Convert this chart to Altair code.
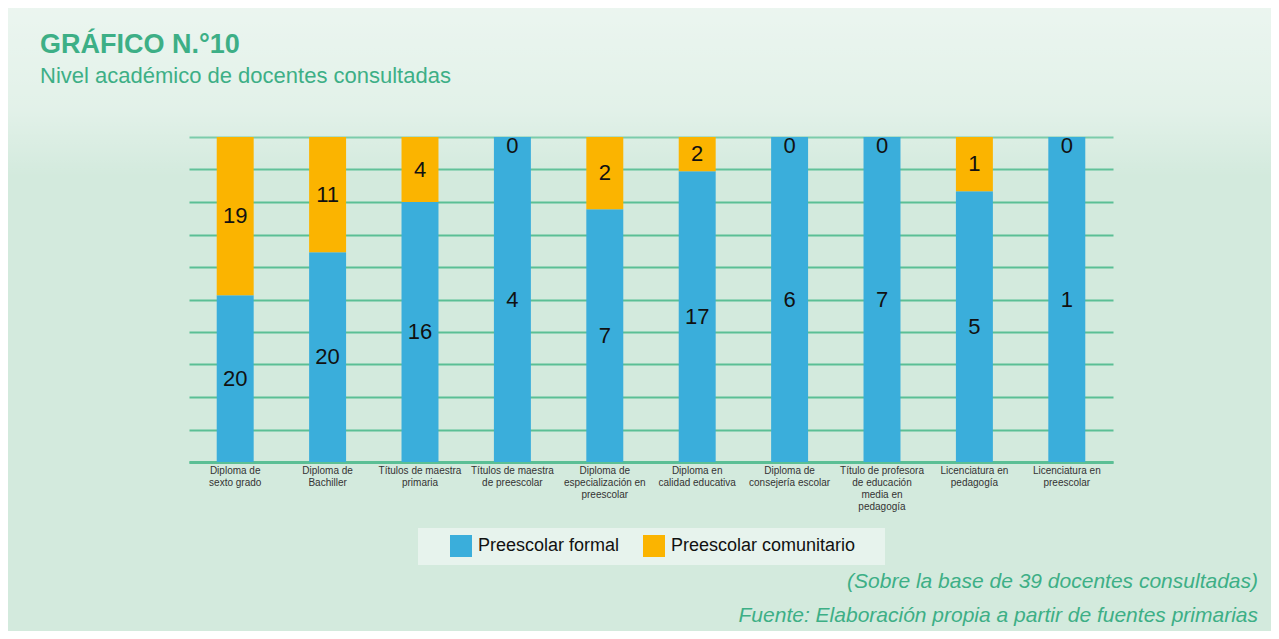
import altair as alt
import pandas as pd

# ---- data ----
categories = [
    "Diploma de|sexto grado",
    "Diploma de|Bachiller",
    "Títulos de maestra|primaria",
    "Títulos de maestra|de preescolar",
    "Diploma de|especialización en|preescolar",
    "Diploma en|calidad educativa",
    "Diploma de|consejería escolar",
    "Título de profesora|de educación|media en|pedagogía",
    "Licenciatura en|pedagogía",
    "Licenciatura en|preescolar",
]
formal = [20, 20, 16, 4, 7, 17, 6, 7, 5, 1]
comunitario = [19, 11, 4, 0, 2, 2, 0, 0, 1, 0]
series = ["Preescolar formal", "Preescolar comunitario"]
colors = ["#3aaedb", "#fbb400"]
grid_values = [0, 0.1, 0.2, 0.3, 0.4, 0.5, 0.6, 0.7, 0.8, 0.9, 1.0]

title_text = "GRÁFICO N.°10"
subtitle_text = "Nivel académico de docentes consultadas"
note1 = "(Sobre la base de 39 docentes consultadas)"
note2 = "Fuente: Elaboración propia a partir de fuentes primarias"

rows = []
for i, c in enumerate(categories):
    rows.append({"cat": c, "serie": series[0], "value": formal[i], "ord": 0})
    rows.append({"cat": c, "serie": series[1], "value": comunitario[i], "ord": 1})
df = pd.DataFrame(rows)

SANS = "Liberation Sans, Arial, sans-serif"
GREEN = "#3daf86"
GRID = "#5bbf95"

W, H = 924, 325
PAD = {"left": 181, "top": 129, "right": 158, "bottom": 169}

one = pd.DataFrame({"k": [0]})

# background light streak (decoration)
streak = alt.Chart(one).mark_rect(
    fill=alt.LinearGradient(
        gradient="linear",
        stops=[
            alt.GradientStop(color="rgba(255,255,255,0.55)", offset=0),
            alt.GradientStop(color="rgba(255,255,255,0.35)", offset=0.6),
            alt.GradientStop(color="rgba(255,255,255,0)", offset=1),
        ],
        x1=0, x2=0, y1=0, y2=1,
    )
).encode(x=alt.value(-181), x2=alt.value(W + 158), y=alt.value(-129), y2=alt.value(40))

x_scale = alt.Scale(paddingInner=0.6, paddingOuter=0.3)
x_axis = alt.Axis(
    labelExpr="split(datum.label, '|')",
    labelAngle=0,
    labelFont=SANS,
    labelFontSize=10,
    labelColor="#333333",
    labelLineHeight=12,
    labelPadding=3,
    labelBaseline="top",
    labelOverlap=False,
    labelLimit=0,
    ticks=False,
    domainColor=GRID,
    domainWidth=3,
    grid=False,
)
y_scale = alt.Scale(domain=[0, 1], nice=False)
y_axis = alt.Axis(
    values=grid_values,
    tickCount=len(grid_values),
    labels=False,
    ticks=False,
    domain=False,
    grid=True,
    gridColor=GRID,
    gridWidth=2,
    gridOpacity=1,
)


def xenc():
    return alt.X("cat:N", sort=categories, title=None, scale=x_scale, axis=x_axis)


bars = alt.Chart(df).mark_bar().encode(
    x=xenc(),
    y=alt.Y("value:Q", stack="normalize", title=None, scale=y_scale, axis=y_axis),
    color=alt.Color(
        "serie:N",
        scale=alt.Scale(domain=series, range=colors),
        legend=alt.Legend(
            title=None,
            orient="none",
            legendX=261,
            legendY=398,
            direction="horizontal",
            symbolType="square",
            symbolSize=484,
            symbolStrokeWidth=0,
            symbolOpacity=1,
            labelFont=SANS,
            labelFontSize=18,
            labelColor="#111111",
            labelOffset=6,
            labelLimit=0,
            columnPadding=23,
            padding=0,
        ),
    ),
    order=alt.Order("ord:Q"),
)

stacked = alt.Chart(df).transform_stack(
    stack="value",
    groupby=["cat"],
    as_=["v0", "v1"],
    offset="normalize",
    sort=[alt.SortField("ord", order="ascending")],
).transform_calculate(mid="(datum.v0 + datum.v1) / 2")

labels_nz = stacked.transform_filter("datum.value > 0").mark_text(
    font=SANS, fontSize=22, color="#111111", baseline="middle"
).encode(
    x=xenc(),
    y=alt.Y("mid:Q", title=None, scale=y_scale, axis=y_axis),
    text="value:Q",
)
labels_zero = stacked.transform_filter("datum.value == 0").mark_text(
    font=SANS, fontSize=22, color="#111111", baseline="top", dy=-1
).encode(
    x=xenc(),
    y=alt.Y("mid:Q", title=None, scale=y_scale, axis=y_axis),
    text="value:Q",
)

legend_box = alt.Chart(one).mark_rect(fill="#e7f3ed").encode(
    x=alt.value(229), x2=alt.value(696), y=alt.value(391), y2=alt.value(428)
)

title = alt.Chart(one).mark_text(
    text=title_text, font=SANS, fontSize=27, fontWeight="bold", color=GREEN,
    align="left", baseline="alphabetic",
).encode(x=alt.value(-149), y=alt.value(-84))

subtitle = alt.Chart(one).mark_text(
    text=subtitle_text, font=SANS, fontSize=22, color=GREEN,
    align="left", baseline="alphabetic",
).encode(x=alt.value(-149), y=alt.value(-54))

foot1 = alt.Chart(one).mark_text(
    text=note1, font=SANS, fontSize=21, fontStyle="italic", color=GREEN,
    align="right", baseline="alphabetic",
).encode(x=alt.value(1069), y=alt.value(451))

foot2 = alt.Chart(one).mark_text(
    text=note2, font=SANS, fontSize=21, fontStyle="italic", color=GREEN,
    align="right", baseline="alphabetic",
).encode(x=alt.value(1069), y=alt.value(485))

chart = alt.layer(
    streak, legend_box, bars, labels_nz, labels_zero, title, subtitle, foot1, foot2
).properties(
    width=W,
    height=H,
    padding=PAD,
    autosize=alt.AutoSizeParams(type="none"),
    background="#d3eadd",
).configure_view(stroke=None)

chart.save("out.html", embed_options={"renderer": "svg", "actions": False})
